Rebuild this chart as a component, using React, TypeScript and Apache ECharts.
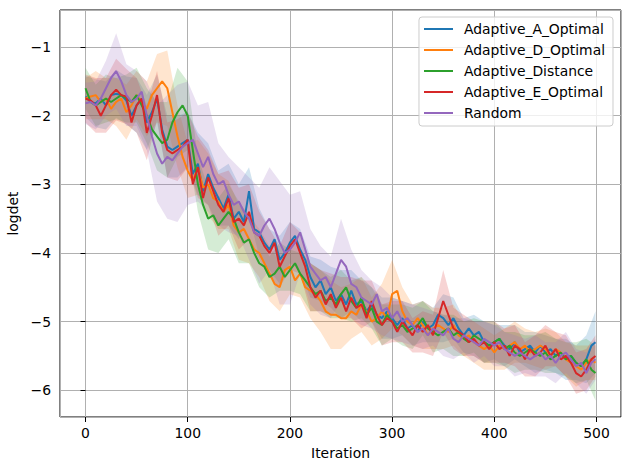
import React, { useEffect, useRef } from 'react';
import * as echarts from 'echarts';

// iterations sampled every 5 steps, plus the last one
const ITERS: number[] = [...Array.from({ length: 100 }, (_, i) => i * 5), 499];

const NAMES = ['Adaptive_A_Optimal', 'Adaptive_D_Optimal', 'Adaptive_Distance', 'Adaptive_E_Optimal', 'Random'];
const COLORS = ['#1f77b4', '#ff7f0e', '#2ca02c', '#d62728', '#9467bd'];

const A_OPT = [
  -1.72, -1.8, -1.82, -1.75, -1.85, -1.7, -1.68, -1.7, -1.78, -2.0,
  -1.85, -1.75, -2.1, -1.95, -1.75, -2.2, -2.45, -2.5, -2.45, -2.4,
  -2.35, -2.85, -2.7, -3.1, -2.85, -3.05, -3.2, -3.35, -3.15, -3.5,
  -3.4, -3.55, -3.1, -3.65, -3.7, -3.85, -3.95, -3.8, -4.1, -4.0,
  -3.85, -3.75, -3.95, -4.1, -4.35, -4.5, -4.4, -4.6, -4.5, -4.7,
  -4.6, -4.75, -4.55, -4.75, -4.7, -4.85, -4.75, -4.9, -4.95, -4.85,
  -4.95, -5.05, -4.95, -5.1, -5.05, -5.15, -5.0, -5.1, -5.05, -4.9,
  -4.95, -5.05, -4.95, -5.1, -5.2, -5.1, -5.2, -5.15, -5.3, -5.35,
  -5.3, -5.25, -5.35, -5.4, -5.3, -5.45, -5.4, -5.35, -5.45, -5.35,
  -5.45, -5.4, -5.5, -5.45, -5.55, -5.5, -5.6, -5.65, -5.55, -5.35,
  -5.3,
];
const D_OPT = [
  -1.75, -1.72, -1.7, -1.8, -1.75, -1.9, -1.8, -1.75, -1.95, -1.85,
  -1.7, -1.8, -1.9, -1.7, -1.6, -1.5, -1.6, -1.95, -2.3, -2.6,
  -2.8, -2.95, -2.75, -3.05, -3.0, -3.2, -3.25, -3.4, -3.3, -3.6,
  -3.7, -3.65, -3.8, -3.95, -4.0, -4.15, -4.3, -4.45, -4.5, -4.25,
  -4.2, -4.4, -4.3, -4.5, -4.55, -4.6, -4.7, -4.85, -4.9, -4.9,
  -4.95, -4.95, -4.85, -4.9, -4.75, -4.85, -5.0, -4.95, -4.85, -4.95,
  -4.6, -4.55, -4.85, -5.0, -5.05, -4.95, -5.05, -5.2, -5.1, -5.05,
  -5.1, -5.15, -5.05, -5.2, -5.25, -5.2, -5.3, -5.35, -5.4, -5.35,
  -5.45, -5.35, -5.4, -5.35, -5.3, -5.4, -5.35, -5.45, -5.4, -5.35,
  -5.4, -5.5, -5.4, -5.45, -5.55, -5.6, -5.65, -5.7, -5.6, -5.55,
  -5.6,
];
const DISTANCE = [
  -1.6, -1.8, -1.85, -1.8, -1.75, -1.8, -1.75, -1.7, -1.75, -1.8,
  -1.7, -1.85, -2.0, -2.2, -2.3, -2.4, -2.35, -2.1, -1.95, -1.85,
  -2.0, -2.5, -3.0, -3.3, -3.5, -3.45, -3.6, -3.5, -3.4, -3.5,
  -3.7, -3.85, -3.8, -4.0, -4.15, -4.2, -4.35, -4.3, -4.2, -4.35,
  -4.25, -4.15, -4.3, -4.4, -4.5, -4.6, -4.55, -4.7, -4.65, -4.75,
  -4.6, -4.5, -4.7, -4.8, -4.65, -4.9, -4.8, -5.0, -5.05, -4.9,
  -5.0, -5.1, -5.05, -5.15, -5.1, -5.05, -4.95, -5.1, -5.15, -5.2,
  -5.15, -5.1, -5.2, -5.15, -5.25, -5.3, -5.2, -5.25, -5.3, -5.35,
  -5.3, -5.25, -5.4, -5.35, -5.45, -5.5, -5.45, -5.4, -5.45, -5.5,
  -5.45, -5.55, -5.5, -5.45, -5.55, -5.5, -5.6, -5.65, -5.55, -5.7,
  -5.75,
];
const E_OPT = [
  -1.75, -1.78, -1.85, -2.0, -1.85, -1.7, -1.62, -1.7, -1.72, -2.1,
  -1.85, -1.75, -2.25, -2.0, -1.7, -2.25, -2.5, -2.55, -2.5, -2.45,
  -2.35, -3.0, -2.75, -3.2, -2.9, -3.1, -3.3, -3.4, -3.2, -3.55,
  -3.5, -3.6, -3.4, -3.7, -3.75, -3.9, -4.0, -3.85, -4.2, -4.05,
  -3.9, -3.8, -4.0, -4.2, -4.5, -4.65, -4.55, -4.75, -4.6, -4.8,
  -4.65, -4.85, -4.65, -4.8, -4.75, -4.95, -4.7, -4.9, -5.05, -4.95,
  -5.0, -5.15, -5.0, -5.1, -5.2, -5.05, -5.15, -5.05, -5.2, -4.95,
  -4.7, -4.9, -5.1, -5.15, -5.2, -5.3, -5.25, -5.35, -5.3, -5.4,
  -5.3, -5.4, -5.35, -5.5, -5.35, -5.4, -5.55, -5.4, -5.5, -5.45,
  -5.35, -5.5, -5.4, -5.55, -5.5, -5.6, -5.75, -5.8, -5.7, -5.55,
  -5.5,
];
const RANDOM = [
  -1.82, -1.8, -1.85, -1.75, -1.6, -1.45, -1.35, -1.5, -1.7, -1.8,
  -1.75, -1.65, -2.0, -2.3, -2.55, -2.7, -2.6, -2.65, -2.55, -2.45,
  -2.4, -2.35, -2.55, -2.75, -2.6, -2.85, -3.0, -2.95, -3.15, -3.3,
  -3.25, -3.4, -3.5, -3.7, -3.75, -3.6, -3.5, -3.65, -3.85, -4.0,
  -3.95, -3.85, -3.7, -3.95, -4.2, -4.3, -4.4, -4.35, -4.5, -4.3,
  -4.1, -4.2, -4.45, -4.5, -4.65, -4.7, -4.75, -4.6, -4.85, -4.8,
  -4.95, -4.85, -5.0, -4.95, -5.05, -5.15, -5.1, -5.2, -5.1, -5.15,
  -5.2, -5.1, -5.25, -5.3, -5.2, -5.25, -5.3, -5.35, -5.25, -5.3,
  -5.35, -5.3, -5.4, -5.45, -5.5, -5.45, -5.5, -5.55, -5.5, -5.45,
  -5.55, -5.5, -5.6, -5.5, -5.45, -5.55, -5.65, -5.6, -5.75, -5.6,
  -5.55,
];

// half-width of the shaded band, every 10 iterations (0..490, 499)
const A_STD = [0.3, 0.35, 0.35, 0.35, 0.35, 0.4, 0.4, 0.35, 0.45, 0.45, 0.4,
  0.45, 0.45, 0.4, 0.45, 0.4, 0.35, 0.35, 0.3, 0.35, 0.3,
  0.3, 0.3, 0.3, 0.3, 0.35, 0.3, 0.3, 0.25, 0.3, 0.3,
  0.25, 0.3, 0.3, 0.25, 0.35, 0.3, 0.25, 0.3, 0.3, 0.25,
  0.3, 0.25, 0.25, 0.3, 0.25, 0.25, 0.3, 0.25, 0.35, 0.45];
const D_STD = [0.3, 0.35, 0.3, 0.35, 0.4, 0.35, 0.4, 0.5, 0.55, 0.45, 0.4,
  0.4, 0.45, 0.4, 0.35, 0.4, 0.35, 0.35, 0.4, 0.35, 0.4,
  0.35, 0.4, 0.45, 0.5, 0.45, 0.4, 0.4, 0.35, 0.4, 0.5,
  0.35, 0.3, 0.35, 0.3, 0.3, 0.3, 0.25, 0.3, 0.3, 0.25,
  0.3, 0.3, 0.25, 0.25, 0.3, 0.25, 0.25, 0.3, 0.25, 0.25];
const DIST_STD = [0.3, 0.3, 0.35, 0.3, 0.35, 0.4, 0.4, 0.5, 0.55, 0.65, 0.5,
  0.4, 0.45, 0.4, 0.4, 0.45, 0.35, 0.35, 0.3, 0.35, 0.3,
  0.3, 0.35, 0.3, 0.3, 0.35, 0.3, 0.3, 0.3, 0.3, 0.25,
  0.3, 0.3, 0.25, 0.3, 0.25, 0.3, 0.25, 0.25, 0.3, 0.3,
  0.25, 0.3, 0.25, 0.25, 0.3, 0.25, 0.25, 0.3, 0.3, 0.4];
const E_STD = [0.35, 0.4, 0.4, 0.45, 0.4, 0.4, 0.4, 0.35, 0.4, 0.45, 0.4,
  0.45, 0.4, 0.45, 0.4, 0.45, 0.4, 0.35, 0.35, 0.3, 0.35,
  0.3, 0.35, 0.3, 0.3, 0.3, 0.3, 0.35, 0.3, 0.3, 0.3,
  0.3, 0.25, 0.3, 0.3, 0.45, 0.3, 0.3, 0.25, 0.3, 0.3,
  0.25, 0.3, 0.25, 0.3, 0.3, 0.25, 0.3, 0.3, 0.3, 0.3];
const RANDOM_STD = [0.3, 0.35, 0.4, 0.55, 0.45, 0.4, 0.5, 0.7, 0.9, 1.0, 0.9,
  0.7, 0.8, 0.6, 0.55, 0.5, 0.6, 0.7, 0.75, 0.9, 0.8,
  0.6, 0.55, 0.5, 0.45, 0.6, 0.5, 0.4, 0.35, 0.35, 0.3,
  0.3, 0.3, 0.3, 0.25, 0.3, 0.3, 0.25, 0.3, 0.25, 0.3,
  0.25, 0.3, 0.25, 0.3, 0.25, 0.3, 0.3, 0.25, 0.3, 0.3];

const MEANS = [A_OPT, D_OPT, DISTANCE, E_OPT, RANDOM];
const STDS = [A_STD, D_STD, DIST_STD, E_STD, RANDOM_STD];

const FONT = 'DejaVu Sans';
const FS = 13.9;
const minus = (v: number) => String(v).replace('-', '\u2212');

function hexA(hex: string, a: number) {
  const n = parseInt(hex.slice(1), 16);
  return `rgba(${(n >> 16) & 255},${(n >> 8) & 255},${n & 255},${a})`;
}

export default function App() {
  const ref = useRef<HTMLDivElement>(null);
  useEffect(() => {
    if (!ref.current) return;
    const chart = echarts.init(ref.current, undefined, { renderer: 'svg' });

    const bands = MEANS.map((m, s) => {
      const pts = STDS[s].map((w, k) => {
        const i = Math.min(k * 2, ITERS.length - 1);
        return [ITERS[i], m[i] - w, m[i] + w];
      });
      return {
        type: 'custom',
        silent: true,
        z: 1,
        clip: true,
        encode: { x: 0, y: [1, 2] },
        data: pts,
        renderItem: (params: any, api: any) => {
          if (params.dataIndex !== 0) return;
          const lo = pts.map(p => api.coord([p[0], p[1]]));
          const hi = pts.map(p => api.coord([p[0], p[2]])).reverse();
          return { type: 'polygon', shape: { points: lo.concat(hi) }, style: { fill: hexA(COLORS[s], 0.2) } };
        },
      };
    });

    const lines = MEANS.map((m, s) => ({
      name: NAMES[s],
      type: 'line',
      z: 3,
      showSymbol: false,
      data: m.map((v, i) => [ITERS[i], v]),
      lineStyle: { color: COLORS[s], width: 2 },
      itemStyle: { color: COLORS[s] },
    }));

    const axisText = { fontFamily: FONT, fontSize: FS, color: '#000' };

    chart.setOption({
      animation: false,
      backgroundColor: '#fff',
      textStyle: { fontFamily: FONT },
      grid: {
        left: 60, right: 9, top: 10, bottom: 53,
        containLabel: false, outerBoundsMode: 'none',
        show: true, borderColor: '#000', borderWidth: 1, backgroundColor: 'transparent',
      },
      legend: {
        data: NAMES.map(n => ({ name: n, icon: 'rect' })),
        orient: 'vertical',
        right: 17,
        top: 17,
        itemWidth: 29,
        itemHeight: 2,
        itemGap: 7,
        padding: [5, 8, 6, 5],
        backgroundColor: 'rgba(255,255,255,0.8)',
        borderColor: '#cccccc',
        borderWidth: 1,
        borderRadius: 3,
        textStyle: { ...axisText, lineHeight: 14, padding: [0, 0, 0, 6] },
      },
      xAxis: {
        type: 'value',
        min: -24.95,
        max: 523.95,
        name: 'Iteration',
        nameLocation: 'middle',
        nameGap: 29,
        nameTextStyle: axisText,
        axisLine: { show: false },
        axisTick: { show: true, length: 5, lineStyle: { color: '#000' } },
        axisLabel: { ...axisText, margin: 9, showMinLabel: false, showMaxLabel: false, formatter: minus },
        splitLine: { show: true, lineStyle: { color: '#b0b0b0', width: 1 } },
      },
      yAxis: {
        type: 'value',
        min: -6.39,
        max: -0.46,
        splitNumber: 6,
        name: 'logdet',
        nameLocation: 'middle',
        nameGap: 36,
        nameRotate: 90,
        nameTextStyle: axisText,
        axisLine: { show: false },
        axisTick: { show: true, length: 5, lineStyle: { color: '#000' } },
        axisLabel: { ...axisText, margin: 9, showMinLabel: false, showMaxLabel: false, formatter: minus },
        splitLine: { show: true, lineStyle: { color: '#b0b0b0', width: 1 } },
      },
      series: [...bands, ...lines],
    });
    return () => chart.dispose();
  }, []);
  return <div ref={ref} style={{ position: 'fixed', left: 0, top: 0, width: 630, height: 470 }} />;
}
